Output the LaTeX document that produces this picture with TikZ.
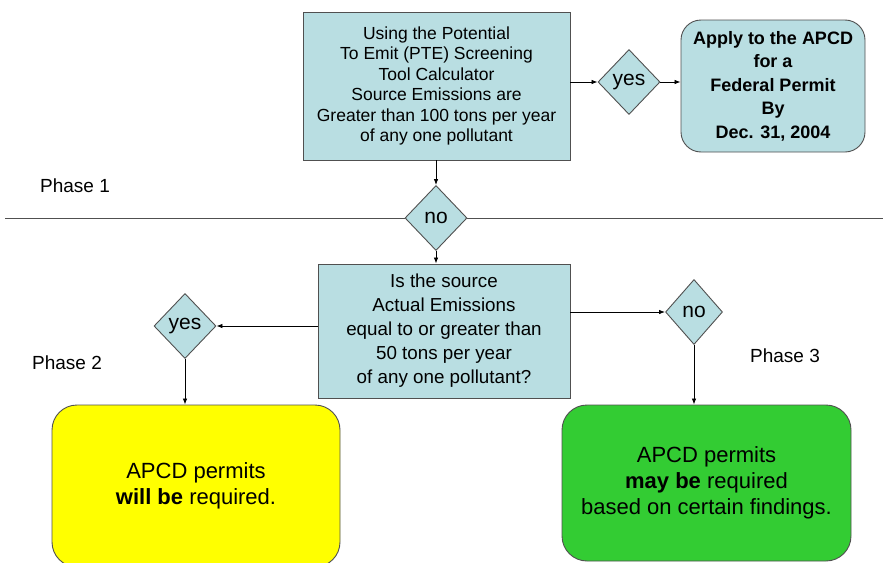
\documentclass[tikz,border=0pt]{standalone}
\usepackage{fontspec}
\setmainfont{Liberation Sans}
\usetikzlibrary{shapes.geometric,arrows.meta}
\definecolor{paleblue}{RGB}{185,222,226}
\definecolor{boxline}{RGB}{80,80,80}
\definecolor{permitgreen}{RGB}{51,204,51}
\definecolor{permityellow}{RGB}{255,255,0}

\begin{document}
\begin{tikzpicture}[x=1pt,y=-1pt,
    box/.style={draw=boxline, fill=paleblue, line width=0.9pt, align=center, inner sep=0pt},
    decide/.style={diamond, draw=boxline, fill=paleblue, line width=0.9pt, inner sep=0pt,
      minimum width=62pt, minimum height=65pt, font=\fontsize{21}{24}\selectfont},
    arr/.style={-{Latex[length=6pt,width=4.5pt]}, line width=0.8pt},
    phase/.style={font=\fontsize{19}{22}\selectfont}]
  \useasboundingbox (0,0) rectangle (883,562);

  % Boxes
  \node[box, minimum width=267pt, minimum height=148pt, font=\fontsize{17.5}{20.4}\selectfont]
    (pte) at (436.5,86) {Using the Potential\\To Emit (PTE) Screening\\Tool Calculator\\Source Emissions are\\Greater than 100 tons per year\\of any one pollutant};
  \node[box, rounded corners=20pt, minimum width=184pt, minimum height=132pt, font=\bfseries\fontsize{18}{23.5}\selectfont]
    (apply) at (773,86) {Apply to the APCD\\for a\\Federal Permit\\By\\Dec. 31, 2004};
  \node[box, minimum width=252pt, minimum height=134pt, font=\fontsize{18.8}{24}\selectfont]
    (actual) at (444,331) {Is the source\\Actual Emissions\\equal to or greater than\\50 tons per year\\of any one pollutant?};
  \node[box, fill=permityellow, rounded corners=25pt, minimum width=288pt, minimum height=162pt, font=\fontsize{22}{26}\selectfont]
    (will) at (196,486) {APCD permits\\\textbf{will be} required.};
  \node[box, fill=permitgreen, rounded corners=25pt, minimum width=289pt, minimum height=156pt, font=\fontsize{22}{26}\selectfont]
    (may) at (706.5,483) {APCD permits\\\textbf{may be} required\\based on certain findings.};

  % Decisions
  \node[decide] (yesA) at (629,82) {yes};
  \node[decide] (noA) at (436,218) {no};
  \node[decide] (yesB) at (185,326) {yes};
  \node[decide, minimum width=57pt] (noB) at (694,312) {no};

  % Phase line
  \coordinate (lineL) at (5,218);
  \coordinate (lineR) at (883,218);
  \draw[boxline, line width=0.8pt] (lineL) -- (noA.west);
  \draw[boxline, line width=0.8pt] (noA.east) -- (lineR);

  % Text Node
  \node[phase] (ph1) at (75,186) {Phase 1};
  \node[phase] (ph2) at (67,363) {Phase 2};
  \node[phase] (ph3) at (785,356) {Phase 3};

  % Arrows
  \draw[arr] (pte.east |- yesA) -- (yesA.west);
  \draw[arr] (yesA.east) -- (apply.west |- yesA);
  \draw[arr] (pte.south -| noA) -- (noA.north);
  \draw[arr] (noA.south) -- (actual.north -| noA);
  \draw[arr] (actual.west |- yesB) -- (yesB.east);
  \draw[arr] (yesB.south) -- (will.north -| yesB);
  \draw[arr] (actual.east |- noB) -- (noB.west);
  \draw[arr] (noB.south) -- (may.north -| noB);
\end{tikzpicture}
\end{document}
